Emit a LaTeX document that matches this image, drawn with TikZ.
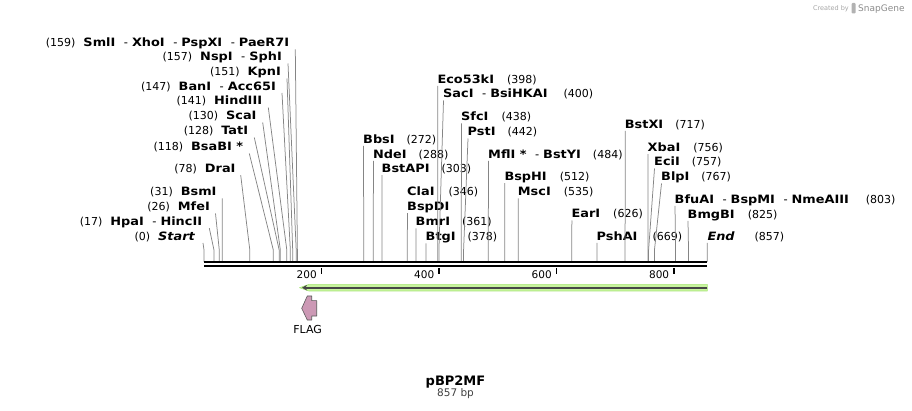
\documentclass[tikz,border=0pt]{standalone}
\usepackage{fontspec}
\setmainfont{DejaVu Sans}
\newfontfamily\enzfont[FakeStretch=1.12]{DejaVu Sans}
\usetikzlibrary{arrows.meta}
\definecolor{featgreen}{RGB}{200,245,158}
\definecolor{featedge}{RGB}{168,228,120}
\definecolor{flagpink}{RGB}{204,153,181}
\newcommand{\enz}[1]{{\enzfont\bfseries #1}}
\newcommand{\sitepos}[1]{{\fontsize{11}{13}\selectfont(#1)}}
\newcommand{\enzsep}{\hspace{8.5pt}-\hspace{4pt}}

\begin{document}
\begin{tikzpicture}[x=1pt, y=-1pt, line join=round,
  enz/.style={inner sep=0pt, font=\fontsize{11.5}{13}\selectfont},
  lbl/.style={enz, anchor=base east},
  rbl/.style={enz, anchor=base west},
  cut/.style={draw=black!48, line width=0.75pt}]
  \useasboundingbox (0,0) rectangle (912,411);

  % cut sites on the sequence (857 bp)
  \foreach \p in {0,17,26,31,78,118,128,130,141,147,151,157,159,272,288,303,346,361,378,398,400,438,442,484,512,535,626,669,717,756,757,767,803,825,857}
    \coordinate (s\p) at ({204+0.5873*\p},262);

  % enzymes on the left
  \node[lbl] (smlI) at (289.3,47) {\sitepos{159}\hspace{8pt}\enz{SmlI}\enzsep\enz{XhoI}\enzsep\enz{PspXI}\enzsep\enz{PaeR7I}};
  \node[lbl] (nspI) at (282,61) {\sitepos{157}\hspace{8pt}\enz{NspI}\enzsep\enz{SphI}};
  \node[lbl] (kpnI) at (281,76) {\sitepos{151}\hspace{8pt}\enz{KpnI}};
  \node[lbl] (banI) at (276,90.5) {\sitepos{147}\hspace{8pt}\enz{BanI}\enzsep\enz{Acc65I}};
  \node[lbl] (hindIII) at (262.3,105) {\sitepos{141}\hspace{8pt}\enz{HindIII}};
  \node[lbl] (scaI) at (256.7,120) {\sitepos{130}\hspace{8pt}\enz{ScaI}};
  \node[lbl] (tatI) at (248.3,135) {\sitepos{128}\hspace{8pt}\enz{TatI}};
  \node[lbl] (bsaBI) at (243.3,151) {\sitepos{118}\hspace{8pt}\enz{BsaBI *}};
  \node[lbl] (draI) at (235.7,172.7) {\sitepos{78}\hspace{8pt}\enz{DraI}};
  \node[lbl] (bsmI) at (216.7,196) {\sitepos{31}\hspace{8pt}\enz{BsmI}};
  \node[lbl] (mfeI) at (210,211) {\sitepos{26}\hspace{8pt}\enz{MfeI}};
  \node[lbl] (hpaI) at (202.3,225.7) {\sitepos{17}\hspace{8pt}\enz{HpaI}\enzsep\enz{HincII}};
  \node[lbl] (start) at (195,240.5) {\sitepos{0}\hspace{8pt}\enz{\itshape Start}};

  \draw[cut] ([shift={(6,2.5)}]smlI.base east) -- ([yshift=12pt]s159) -- (s159);
  \draw[cut] ([shift={(6,2.5)}]nspI.base east) -- ([yshift=12pt]s157) -- (s157);
  \draw[cut] ([shift={(6,2.5)}]kpnI.base east) -- ([yshift=12pt]s151) -- (s151);
  \draw[cut] ([shift={(6,2.5)}]banI.base east) -- ([yshift=12pt]s147) -- (s147);
  \draw[cut] ([shift={(6,2.5)}]hindIII.base east) -- ([yshift=12pt]s141) -- (s141);
  \draw[cut] ([shift={(6,2.5)}]scaI.base east) -- ([yshift=12pt]s130) -- (s130);
  \draw[cut] ([shift={(6,2.5)}]tatI.base east) -- ([yshift=12pt]s128) -- (s128);
  \draw[cut] ([shift={(6,2.5)}]bsaBI.base east) -- ([yshift=12pt]s118) -- (s118);
  \draw[cut] ([shift={(5,2.5)}]draI.base east) -- ([yshift=12pt]s78) -- (s78);
  \draw[cut] ([shift={(5.5,2.5)}]bsmI.base east) -- ([yshift=12pt]s31) -- (s31);
  \draw[cut] ([shift={(5.5,2.5)}]mfeI.base east) -- ([yshift=12pt]s26) -- (s26);
  \draw[cut] ([shift={(7,2.5)}]hpaI.base east) -- ([yshift=12pt]s17) -- (s17);
  \draw[cut] ([shift={(8,2.5)}]start.base east) -- ([yshift=12pt]s0) -- (s0);

  % enzymes on the right
  \node[rbl] (bbsI) at (363,143.4) {\enz{BbsI}\hspace{12pt}\sitepos{272}};
  \node[rbl] (ndeI) at (373,158.4) {\enz{NdeI}\hspace{12pt}\sitepos{288}};
  \node[rbl] (bstAPI) at (381.5,172.7) {\enz{BstAPI}\hspace{12pt}\sitepos{303}};
  \node[rbl] (claI) at (407,196) {\enz{ClaI}\hspace{14pt}\sitepos{346}};
  \node[rbl] (bspDI) at (407,210.7) {\enz{BspDI}};
  \node[rbl] (bmrI) at (415.5,226) {\enz{BmrI}\hspace{12pt}\sitepos{361}};
  \node[rbl] (btgI) at (425.5,241) {\enz{BtgI}\hspace{12pt}\sitepos{378}};
  \node[rbl] (eco53kI) at (437.3,83.4) {\enz{Eco53kI}\hspace{13pt}\sitepos{398}};
  \node[rbl] (sacI) at (443,98) {\enz{SacI}\enzsep\enz{BsiHKAI}\hspace{16pt}\sitepos{400}};
  \node[rbl] (sfcI) at (461,121) {\enz{SfcI}\hspace{13pt}\sitepos{438}};
  \node[rbl] (pstI) at (467.5,136) {\enz{PstI}\hspace{12pt}\sitepos{442}};
  \node[rbl] (mflI) at (488,158.4) {\enz{MflI *}\enzsep\enz{BstYI}\hspace{12pt}\sitepos{484}};
  \node[rbl] (bspHI) at (504.3,180.7) {\enz{BspHI}\hspace{13pt}\sitepos{512}};
  \node[rbl] (mscI) at (517.7,196) {\enz{MscI}\hspace{13pt}\sitepos{535}};
  \node[rbl] (earI) at (571.4,218) {\enz{EarI}\hspace{13pt}\sitepos{626}};
  \node[rbl] (pshAI) at (596.5,240.4) {\enz{PshAI}\hspace{15pt}\sitepos{669}};
  \node[rbl] (bstXI) at (624.7,128.4) {\enz{BstXI}\hspace{12pt}\sitepos{717}};
  \node[rbl] (xbaI) at (647.5,151.7) {\enz{XbaI}\hspace{13pt}\sitepos{756}};
  \node[rbl] (eciI) at (654,166) {\enz{EciI}\hspace{12pt}\sitepos{757}};
  \node[rbl] (blpI) at (661,181) {\enz{BlpI}\hspace{12pt}\sitepos{767}};
  \node[rbl] (bfuAI) at (674.5,203.4) {\enz{BfuAI}\enzsep\enz{BspMI}\enzsep\enz{NmeAIII}\hspace{17pt}\sitepos{803}};
  \node[rbl] (bmgBI) at (687.5,218.4) {\enz{BmgBI}\hspace{13pt}\sitepos{825}};
  \node[rbl] (endsite) at (707.3,240.4) {\enz{\itshape End}\hspace{20pt}\sitepos{857}};

  \draw[cut] ([shift={(0.5,2.5)}]bbsI.base west) -- ([yshift=12pt]s272) -- (s272);
  \draw[cut] ([shift={(0.5,2.5)}]ndeI.base west) -- ([yshift=12pt]s288) -- (s288);
  \draw[cut] ([shift={(0.5,2.5)}]bstAPI.base west) -- ([yshift=12pt]s303) -- (s303);
  \draw[cut] ([shift={(0.5,2.5)}]bspDI.base west) -- ([yshift=12pt]s346) -- (s346);
  \draw[cut] ([shift={(0.5,2.5)}]bmrI.base west) -- ([yshift=12pt]s361) -- (s361);
  \draw[cut] ([shift={(0.5,2.5)}]btgI.base west) -- ([yshift=12pt]s378) -- (s378);
  \draw[cut] ([shift={(0.5,2.5)}]eco53kI.base west) -- ([yshift=12pt]s398) -- (s398);
  \draw[cut] ([shift={(0.5,2.5)}]sacI.base west) -- ([yshift=12pt]s400) -- (s400);
  \draw[cut] ([shift={(0.5,2.5)}]sfcI.base west) -- ([yshift=12pt]s438) -- (s438);
  \draw[cut] ([shift={(0.5,2.5)}]pstI.base west) -- ([yshift=12pt]s442) -- (s442);
  \draw[cut] ([shift={(0.5,2.5)}]mflI.base west) -- ([yshift=12pt]s484) -- (s484);
  \draw[cut] ([shift={(0.5,2.5)}]bspHI.base west) -- ([yshift=12pt]s512) -- (s512);
  \draw[cut] ([shift={(0.5,2.5)}]mscI.base west) -- ([yshift=12pt]s535) -- (s535);
  \draw[cut] ([shift={(0.5,2.5)}]earI.base west) -- ([yshift=12pt]s626) -- (s626);
  \draw[cut] ([shift={(0.5,2.5)}]pshAI.base west) -- ([yshift=12pt]s669) -- (s669);
  \draw[cut] ([shift={(0.5,2.5)}]bstXI.base west) -- ([yshift=12pt]s717) -- (s717);
  \draw[cut] ([shift={(0.5,2.5)}]xbaI.base west) -- ([yshift=12pt]s756) -- (s756);
  \draw[cut] ([shift={(0.5,2.5)}]eciI.base west) -- ([yshift=12pt]s757) -- (s757);
  \draw[cut] ([shift={(0.5,2.5)}]blpI.base west) -- ([yshift=12pt]s767) -- (s767);
  \draw[cut] ([shift={(0.5,2.5)}]bfuAI.base west) -- ([yshift=12pt]s803) -- (s803);
  \draw[cut] ([shift={(0.5,2.5)}]bmgBI.base west) -- ([yshift=12pt]s825) -- (s825);
  \draw[cut] ([shift={(0,2.5)}]endsite.base west) -- (s857);

  % double strand and ruler
  \draw[line width=2.6pt] (s0) -- (s857);
  \draw[line width=2.6pt] ([yshift=-4pt]s0) -- ([yshift=-4pt]s857);
  \foreach \t in {200,400,600,800} {
    \draw[line width=1.7pt] ({204+0.5873*\t},268) -- ({204+0.5873*\t},274.3);
    \node[anchor=base east, inner sep=0pt, font=\fontsize{10.5}{12}\selectfont] (tick\t) at ({204+0.5873*\t-4.5},278.3) {\t};
  }

  % feature arrow
  \filldraw[fill=featgreen, draw=featedge, line width=0.6pt] (707.3,284.4) -- (309,284.4) -- (299.5,287.7) -- (309,291) -- (707.3,291) -- cycle;
  \draw[line width=2.2pt, black!72, -{Stealth[length=5pt, width=5.5pt]}] (707.3,287.7) -- (302,287.7);

  % FLAG
  \filldraw[fill=flagpink, draw=black!65, line width=0.6pt] (301.7,308.3) -- (307.3,296) -- (311.7,296) -- (311.7,300.7) -- (316.7,300.7) -- (316.7,316) -- (311.7,316) -- (311.7,320) -- (307.3,320) -- cycle;
  \node[anchor=base, inner sep=0pt, font=\fontsize{11}{13}\selectfont] (flag) at (307.7,333.5) {FLAG};

  % title
  \node[anchor=base, inner sep=0pt, font=\bfseries\fontsize{13}{15}\selectfont] (plasmid) at (455.5,385) {pBP2MF};
  \node[anchor=base, inner sep=0pt, font=\fontsize{10.5}{12}\selectfont, text=black!75] (length) at (455.5,396.5) {857 bp};

  % watermark
  \node[anchor=base east, inner sep=0pt, font=\fontsize{6.5}{8}\selectfont, text=black!35] (created) at (849,10.5) {Created by};
  \fill[black!30, rounded corners=1pt] (851.5,3) rectangle (855.5,13.5);
  \node[anchor=base west, inner sep=0pt, font=\fontsize{9}{10}\selectfont, text=black!45] (snapgene) at (858,11.5) {SnapGene};
\end{tikzpicture}
\end{document}
